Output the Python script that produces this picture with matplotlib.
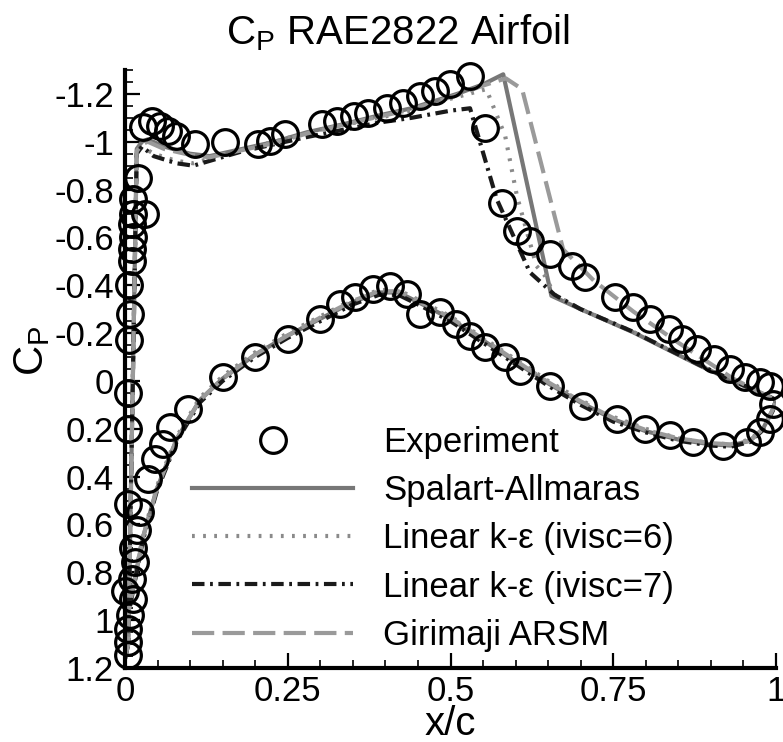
import matplotlib
matplotlib.use("Agg")
import matplotlib.pyplot as plt
from matplotlib.ticker import MultipleLocator, FormatStrFormatter

plt.rcParams['font.family'] = ['Liberation Sans', 'DejaVu Sans']
plt.rcParams['axes.unicode_minus'] = False
plt.rcParams['lines.scale_dashes'] = False

# experiment, upper surface (LE -> TE)
exp_x_upper = [0.005, 0.005, 0.006, 0.008, 0.006, 0.010, 0.010, 0.013, 0.010, 0.013,
               0.031, 0.013, 0.020, 0.028, 0.041, 0.054, 0.066, 0.079, 0.108, 0.154,
               0.205, 0.223, 0.246, 0.302, 0.325, 0.351, 0.374, 0.402, 0.427, 0.453,
               0.476, 0.499, 0.530, 0.553, 0.579, 0.602, 0.622, 0.653, 0.686, 0.707,
               0.753, 0.781, 0.806, 0.835, 0.855, 0.878, 0.904, 0.929, 0.952, 0.975,
               0.991]
exp_cp_upper = [0.20, 0.05, -0.17, -0.28, -0.40, -0.50, -0.55, -0.60, -0.656, -0.70,
                -0.697, -0.76, -0.85, -1.06, -1.087, -1.066, -1.045, -1.024, -0.99, -0.997,
                -0.99, -1.003, -1.031, -1.073, -1.087, -1.108, -1.122, -1.143, -1.164, -1.191,
                -1.212, -1.24, -1.275, -1.059, -0.746, -0.628, -0.586, -0.53, -0.481, -0.433,
                -0.349, -0.308, -0.259, -0.217, -0.175, -0.134, -0.092, -0.05, -0.015, 0.005,
                0.02]

# experiment, lower surface (LE -> TE)
exp_x_lower = [0.005, 0.005, 0.005, 0.008, 0.013, 0.0, 0.010, 0.015, 0.013, 0.018,
               0.023, 0.005, 0.036, 0.046, 0.059, 0.069, 0.097, 0.151, 0.200, 0.251,
               0.300, 0.330, 0.353, 0.381, 0.407, 0.433, 0.453, 0.484, 0.509, 0.530,
               0.553, 0.584, 0.607, 0.653, 0.704, 0.755, 0.799, 0.837, 0.873, 0.919,
               0.955, 0.975, 0.991, 0.996]
exp_cp_lower = [1.147, 1.09, 1.035, 0.98, 0.91, 0.88, 0.827, 0.757, 0.70, 0.625,
                0.548, 0.514, 0.409, 0.326, 0.263, 0.193, 0.117, -0.015, -0.099, -0.175,
                -0.259, -0.321, -0.349, -0.384, -0.398, -0.363, -0.28, -0.287, -0.24, -0.19,
                -0.141, -0.099, -0.043, 0.02, 0.103, 0.159, 0.2, 0.228, 0.256, 0.27,
                0.256, 0.214, 0.159, 0.096]

# computed lower surface, common stations
x_lower = [0.0, 0.005, 0.015, 0.028, 0.049, 0.08, 0.115, 0.15, 0.2, 0.25, 0.3, 0.35,
           0.39, 0.42, 0.45, 0.5, 0.55, 0.6, 0.65, 0.7, 0.75, 0.8, 0.85, 0.9, 0.93,
           0.96, 0.98, 0.995, 1.0]
sa_lower = [1.16, 0.97, 0.83, 0.65, 0.45, 0.24, 0.08, -0.01, -0.11, -0.19, -0.26, -0.33,
            -0.37, -0.37, -0.33, -0.26, -0.17, -0.08, 0.01, 0.09, 0.16, 0.21, 0.245, 0.265,
            0.27, 0.25, 0.2, 0.12, 0.08]
ke6_lower = [1.16, 0.96, 0.82, 0.64, 0.44, 0.23, 0.07, -0.02, -0.12, -0.20, -0.27, -0.34,
             -0.38, -0.38, -0.34, -0.27, -0.18, -0.09, 0.0, 0.08, 0.15, 0.20, 0.24, 0.26,
             0.265, 0.245, 0.2, 0.12, 0.08]
ke7_lower = [1.16, 0.98, 0.84, 0.66, 0.46, 0.25, 0.09, 0.0, -0.10, -0.18, -0.25, -0.32,
             -0.36, -0.36, -0.32, -0.25, -0.16, -0.07, 0.02, 0.10, 0.17, 0.215, 0.25, 0.27,
             0.275, 0.255, 0.205, 0.125, 0.08]
gir_lower = [1.16, 0.97, 0.83, 0.65, 0.45, 0.24, 0.08, -0.01, -0.11, -0.19, -0.265, -0.335,
             -0.375, -0.375, -0.335, -0.265, -0.175, -0.085, 0.005, 0.085, 0.155, 0.205, 0.24,
             0.26, 0.265, 0.25, 0.2, 0.12, 0.08]

# computed upper surface
sa_x_upper = [0.0, 0.005, 0.012, 0.018, 0.026, 0.035, 0.06, 0.1, 0.13, 0.18, 0.23, 0.28,
              0.335, 0.39, 0.44, 0.51, 0.55, 0.581, 0.655, 0.7, 0.781, 0.883, 0.95, 0.986, 1.0]
sa_cp_upper = [1.16, 1.1, 0.0, -0.97, -1.0, -1.01, -0.98, -0.95, -0.94, -0.97, -1.0, -1.04,
               -1.073, -1.11, -1.14, -1.2, -1.24, -1.282, -0.356, -0.3, -0.203, -0.064, 0.02,
               0.061, 0.08]
ke6_x_upper = [0.0, 0.005, 0.012, 0.018, 0.026, 0.044, 0.079, 0.105, 0.13, 0.18, 0.23, 0.28,
               0.335, 0.39, 0.44, 0.5, 0.555, 0.584, 0.602, 0.632, 0.645, 0.66, 0.7, 0.781,
               0.883, 0.95, 0.986, 1.0]
ke6_cp_upper = [1.16, 1.1, 0.0, -0.95, -0.98, -0.95, -0.92, -0.91, -0.93, -0.97, -1.0, -1.04,
                -1.07, -1.1, -1.13, -1.18, -1.22, -1.024, -0.774, -0.481, -0.44, -0.36, -0.3,
                -0.205, -0.066, 0.018, 0.06, 0.08]
ke7_x_upper = [0.0, 0.005, 0.012, 0.018, 0.026, 0.044, 0.079, 0.105, 0.13, 0.18, 0.23, 0.28,
               0.335, 0.39, 0.44, 0.5, 0.53, 0.571, 0.622, 0.637, 0.66, 0.7, 0.781, 0.883,
               0.95, 0.986, 1.0]
ke7_cp_upper = [1.16, 1.1, 0.0, -0.95, -0.98, -0.94, -0.91, -0.9, -0.92, -0.96, -0.99, -1.02,
                -1.05, -1.08, -1.1, -1.13, -1.14, -0.76, -0.454, -0.417, -0.36, -0.3, -0.205,
                -0.066, 0.018, 0.06, 0.08]
gir_x_upper = [0.0, 0.005, 0.012, 0.018, 0.026, 0.035, 0.06, 0.1, 0.13, 0.18, 0.23, 0.28,
               0.335, 0.39, 0.44, 0.51, 0.55, 0.585, 0.61, 0.673, 0.72, 0.781, 0.85, 0.934,
               0.97, 1.0]
gir_cp_upper = [1.16, 1.1, 0.0, -0.96, -0.99, -1.0, -0.97, -0.945, -0.935, -0.965, -0.995, -1.035,
                -1.07, -1.105, -1.135, -1.195, -1.235, -1.265, -1.22, -0.55, -0.42, -0.29,
                -0.16, -0.01, 0.04, 0.08]

labels = ["Experiment", "Spalart-Allmaras", "Linear k-\u03b5 (ivisc=6)",
          "Linear k-\u03b5 (ivisc=7)", "Girimaji ARSM"]
ytick_vals = [-1.2, -1.0, -0.8, -0.6, -0.4, -0.2, 0, 0.2, 0.4, 0.6, 0.8, 1.0, 1.2]
ytick_text = ['-1.2', '-1', '-0.8', '-0.6', '-0.4', '-0.2', '0', '0.2', '0.4',
              '0.6', '0.8', '1', '1.2']

fig = plt.figure(figsize=(7.83, 7.42), dpi=100)
ax = fig.add_axes([125 / 783, 1 - 668 / 742, 651 / 783, 598 / 742])

lw = 3.0
sty = [
    dict(color='#777777', ls='-'),
    dict(color='#8a8a8a', ls=(0, (2, 6))),
    dict(color='#1a1a1a', ls=(0, (9, 4, 2, 4))),
    dict(color='#9a9a9a', ls=(0, (16, 6))),
]
ups = [(sa_x_upper, sa_cp_upper), (ke6_x_upper, ke6_cp_upper),
       (ke7_x_upper, ke7_cp_upper), (gir_x_upper, gir_cp_upper)]
lows = [sa_lower, ke6_lower, ke7_lower, gir_lower]

handles = []
for i in range(4):
    h, = ax.plot(ups[i][0], ups[i][1], lw=lw, label=labels[i + 1], **sty[i])
    ax.plot(x_lower, lows[i], lw=lw, **sty[i])
    handles.append(h)

ms = 18.5
hexp, = ax.plot(exp_x_upper, exp_cp_upper, 'o', mfc='none', mec='black', ms=ms, mew=2.3,
                clip_on=False, label=labels[0], zorder=5)
ax.plot(exp_x_lower, exp_cp_lower, 'o', mfc='none', mec='black', ms=ms, mew=2.3,
        clip_on=False, zorder=5)

ax.set_xlim(0, 1)
ax.set_ylim(1.2, -1.3)

for s in ['top', 'right']:
    ax.spines[s].set_visible(False)
for s in ['left', 'bottom']:
    ax.spines[s].set_linewidth(3)

ax.xaxis.set_major_locator(MultipleLocator(0.25))
ax.xaxis.set_minor_locator(MultipleLocator(0.05))
ax.yaxis.set_minor_locator(MultipleLocator(0.05))
ax.xaxis.set_major_formatter(FormatStrFormatter('%g'))
ax.set_yticks(ytick_vals)
ax.set_yticklabels(ytick_text)
ax.tick_params(which='major', direction='in', length=11, width=1.6, labelsize=25, pad=5)
ax.tick_params(which='minor', direction='in', length=6, width=1.2)
ax.tick_params(axis='y', which='major', pad=8)

ax.set_xlabel('x/c', fontsize=29, labelpad=-2)
ax.set_ylabel(r'C$_{\mathregular{P}}$', fontsize=30)
ax.yaxis.set_label_coords(-0.112, 0.53)

fig.text(0.508, 1 - 44 / 742, r'C$_{\mathregular{P}}$ RAE2822 Airfoil', fontsize=29,
         ha='center', va='baseline')

leg = ax.legend([hexp] + handles, labels, loc='upper left', bbox_to_anchor=(0.103, 0.405),
                frameon=False, fontsize=25, handlelength=4.64, handletextpad=0.86,
                labelspacing=0.44, borderpad=0, borderaxespad=0, numpoints=1)

fig.savefig('out.png', dpi=100)
